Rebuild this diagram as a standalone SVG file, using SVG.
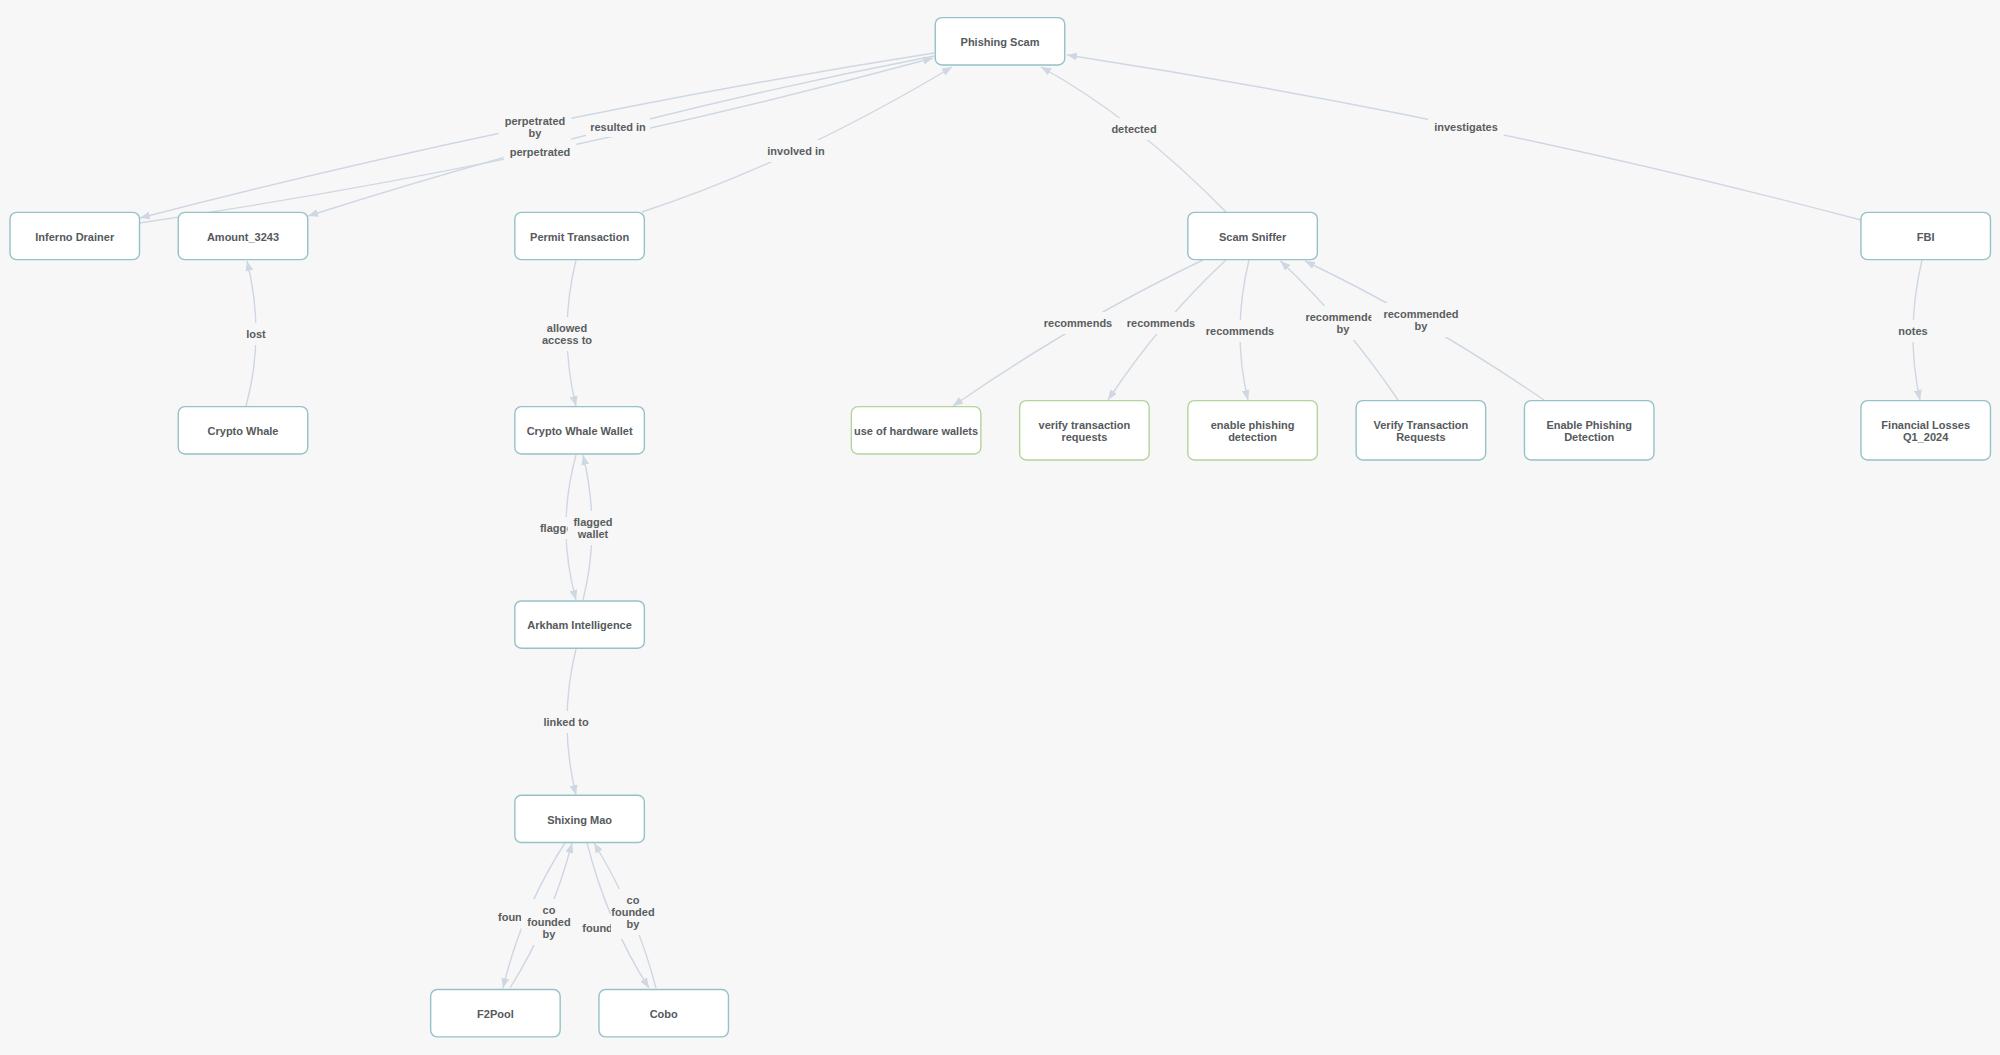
<svg xmlns="http://www.w3.org/2000/svg" width="2000" height="1055" viewBox="0 0 2000 1055">
<defs>
<marker id="arr" viewBox="0 0 10 8" refX="10" refY="4" markerWidth="10" markerHeight="8" markerUnits="userSpaceOnUse" orient="auto">
<path d="M0,0 L10,4 L0,8 z" fill="#cfd7e3"/>
</marker>
</defs>
<style>
.bg{fill:#f7f7f7}
.node rect{fill:#ffffff;stroke:#95c1c8;stroke-width:1.4}
.node.green rect{stroke:#b3d49a}
.node text{font-family:"Liberation Sans",Arial,sans-serif;font-size:11px;font-weight:bold;fill:#555a5d;text-anchor:middle}
.edge{fill:none;stroke:#cfd7e3;stroke-width:1.4;marker-end:url(#arr)}
.lbl rect{fill:#f7f7f7}
.lbl text{font-family:"Liberation Sans",Arial,sans-serif;font-size:11px;font-weight:bold;fill:#5a5e60;text-anchor:middle}
</style>
<rect class="bg" x="0" y="0" width="2000" height="1055"/>

<g id="edges">
<path class="edge" d="M934,53 Q531,116.5 140,218"/>
<path class="edge" d="M139.5,223 Q543.5,163.5 933,58"/>
<path class="edge" d="M934,56 Q616,117.5 308,216"/>
<path class="edge" d="M642,212 Q793,162.5 952,67"/>
<path class="edge" d="M1226,212 Q1134.5,118.5 1041,67"/>
<path class="edge" d="M1861,220 Q1468,116.5 1067,55"/>
<path class="edge" d="M246,406 Q265.5,334.5 247,261"/>
<path class="edge" d="M576,260 Q558,333 576,406"/>
<path class="edge" d="M576,455 Q556,527.5 576,600"/>
<path class="edge" d="M583,600 Q601,528.5 583,455"/>
<path class="edge" d="M576,649 Q558,722 576,795"/>
<path class="edge" d="M565,843 Q522,909 503,988"/>
<path class="edge" d="M510,988 Q551,923 572,843"/>
<path class="edge" d="M587,843 Q608,924.5 649,988"/>
<path class="edge" d="M656,988 Q636,911 594,843"/>
<path class="edge" d="M1203,260 Q1079,319 953,406"/>
<path class="edge" d="M1226,260 Q1162,319 1108,400"/>
<path class="edge" d="M1249,260 Q1231.5,332 1248,400"/>
<path class="edge" d="M1398,400 Q1345,321.6 1280.5,261"/>
<path class="edge" d="M1544,400 Q1424,318 1305,261"/>
<path class="edge" d="M1922,260 Q1905,332 1920,400"/>
</g>

<g id="edge-labels">
<g class="lbl"><rect x="498.75" y="110" width="72.5" height="34"/><text x="535" y="125">perpetrated</text><text x="535" y="137">by</text></g>
<g class="lbl"><rect x="503.75" y="141" width="72.5" height="22"/><text x="540" y="156">perpetrated</text></g>
<g class="lbl"><rect x="586" y="117" width="64" height="20"/><text x="618" y="131">resulted in</text></g>
<g class="lbl"><rect x="761.25" y="140" width="69.5" height="22"/><text x="796" y="155">involved in</text></g>
<g class="lbl"><rect x="1105.4" y="118" width="57.2" height="22"/><text x="1134" y="133">detected</text></g>
<g class="lbl"><rect x="1428.2" y="116" width="75.6" height="22"/><text x="1466" y="131">investigates</text></g>
<g class="lbl"><rect x="240.2" y="323" width="31.6" height="22"/><text x="256" y="338">lost</text></g>
<g class="lbl"><rect x="535.95" y="317" width="62.1" height="34"/><text x="567" y="332">allowed</text><text x="567" y="344">access to</text></g>
<g class="lbl"><rect x="534" y="517" width="51.1" height="22"/><text x="559.5" y="532">flagged</text></g>
<g class="lbl"><rect x="567.45" y="511" width="51.1" height="34"/><text x="593" y="526">flagged</text><text x="593" y="538">wallet</text></g>
<g class="lbl"><rect x="537.4" y="711" width="57.2" height="22"/><text x="566" y="726">linked to</text></g>
<g class="lbl"><rect x="492" y="906" width="55.4" height="22"/><text x="519.7" y="921">founded</text></g>
<g class="lbl"><rect x="521.3" y="899" width="55.4" height="46"/><text x="549" y="914">co</text><text x="549" y="926">founded</text><text x="549" y="938">by</text></g>
<g class="lbl"><rect x="576.3" y="914" width="55.4" height="25"/><text x="604" y="932">founded</text></g>
<g class="lbl"><rect x="611" y="889" width="45" height="46"/><text x="633" y="904">co</text><text x="633" y="916">founded</text><text x="633" y="928">by</text></g>
<g class="lbl"><rect x="1037.75" y="312" width="80.5" height="22"/><text x="1078" y="327">recommends</text></g>
<g class="lbl"><rect x="1120.75" y="312" width="80.5" height="22"/><text x="1161" y="327">recommends</text></g>
<g class="lbl"><rect x="1199.75" y="320" width="80.5" height="22"/><text x="1240" y="335">recommends</text></g>
<g class="lbl"><rect x="1299.4" y="306" width="87.2" height="34"/><text x="1343" y="321">recommended</text><text x="1343" y="333">by</text></g>
<g class="lbl"><rect x="1371.4" y="303" width="99.2" height="34"/><text x="1421" y="318">recommended</text><text x="1421" y="330">by</text></g>
<g class="lbl"><rect x="1892.35" y="320" width="41.3" height="22"/><text x="1913" y="335">notes</text></g>
</g>

<g id="node-phishing-scam" class="node"><rect x="935.25" y="17.65" width="129.5" height="47.3" rx="6.5"/><text x="1000" y="46.2">Phishing Scam</text></g>
<g id="node-inferno-drainer" class="node"><rect x="10" y="212.35" width="129.5" height="47.3" rx="6.5"/><text x="74.75" y="240.8">Inferno Drainer</text></g>
<g id="node-amount-3243" class="node"><rect x="178.25" y="212.35" width="129.5" height="47.3" rx="6.5"/><text x="243" y="240.8">Amount_3243</text></g>
<g id="node-permit-transaction" class="node"><rect x="514.85" y="212.35" width="129.5" height="47.3" rx="6.5"/><text x="579.6" y="240.8">Permit Transaction</text></g>
<g id="node-scam-sniffer" class="node"><rect x="1187.85" y="212.35" width="129.5" height="47.3" rx="6.5"/><text x="1252.6" y="240.8">Scam Sniffer</text></g>
<g id="node-fbi" class="node"><rect x="1860.95" y="212.35" width="129.5" height="47.3" rx="6.5"/><text x="1925.7" y="240.8">FBI</text></g>
<g id="node-crypto-whale" class="node"><rect x="178.25" y="406.65" width="129.5" height="47.3" rx="6.5"/><text x="243" y="435.1">Crypto Whale</text></g>
<g id="node-crypto-whale-wallet" class="node"><rect x="514.85" y="406.65" width="129.5" height="47.3" rx="6.5"/><text x="579.6" y="435.1">Crypto Whale Wallet</text></g>
<g id="node-use-of-hardware-wallets" class="node green"><rect x="851.35" y="406.65" width="129.5" height="47.3" rx="6.5"/><text x="916.1" y="435.1">use of hardware wallets</text></g>
<g id="node-verify-transaction-requests-rec" class="node green"><rect x="1019.65" y="400.65" width="129.5" height="59.3" rx="6.5"/><text x="1084.4" y="429.1">verify transaction</text><text x="1084.4" y="441.3">requests</text></g>
<g id="node-enable-phishing-detection-rec" class="node green"><rect x="1187.85" y="400.65" width="129.5" height="59.3" rx="6.5"/><text x="1252.6" y="429.1">enable phishing</text><text x="1252.6" y="441.3">detection</text></g>
<g id="node-verify-transaction-requests" class="node"><rect x="1356.15" y="400.65" width="129.5" height="59.3" rx="6.5"/><text x="1420.9" y="429.1">Verify Transaction</text><text x="1420.9" y="441.3">Requests</text></g>
<g id="node-enable-phishing-detection" class="node"><rect x="1524.45" y="400.65" width="129.5" height="59.3" rx="6.5"/><text x="1589.2" y="429.1">Enable Phishing</text><text x="1589.2" y="441.3">Detection</text></g>
<g id="node-financial-losses" class="node"><rect x="1860.95" y="400.65" width="129.5" height="59.3" rx="6.5"/><text x="1925.7" y="429.1">Financial Losses</text><text x="1925.7" y="441.3">Q1_2024</text></g>
<g id="node-arkham-intelligence" class="node"><rect x="514.85" y="600.95" width="129.5" height="47.3" rx="6.5"/><text x="579.6" y="629.4">Arkham Intelligence</text></g>
<g id="node-shixing-mao" class="node"><rect x="514.85" y="795.25" width="129.5" height="47.3" rx="6.5"/><text x="579.6" y="823.7">Shixing Mao</text></g>
<g id="node-f2pool" class="node"><rect x="430.65" y="989.55" width="129.5" height="47.3" rx="6.5"/><text x="495.4" y="1018">F2Pool</text></g>
<g id="node-cobo" class="node"><rect x="598.95" y="989.55" width="129.5" height="47.3" rx="6.5"/><text x="663.7" y="1018">Cobo</text></g>
</svg>
